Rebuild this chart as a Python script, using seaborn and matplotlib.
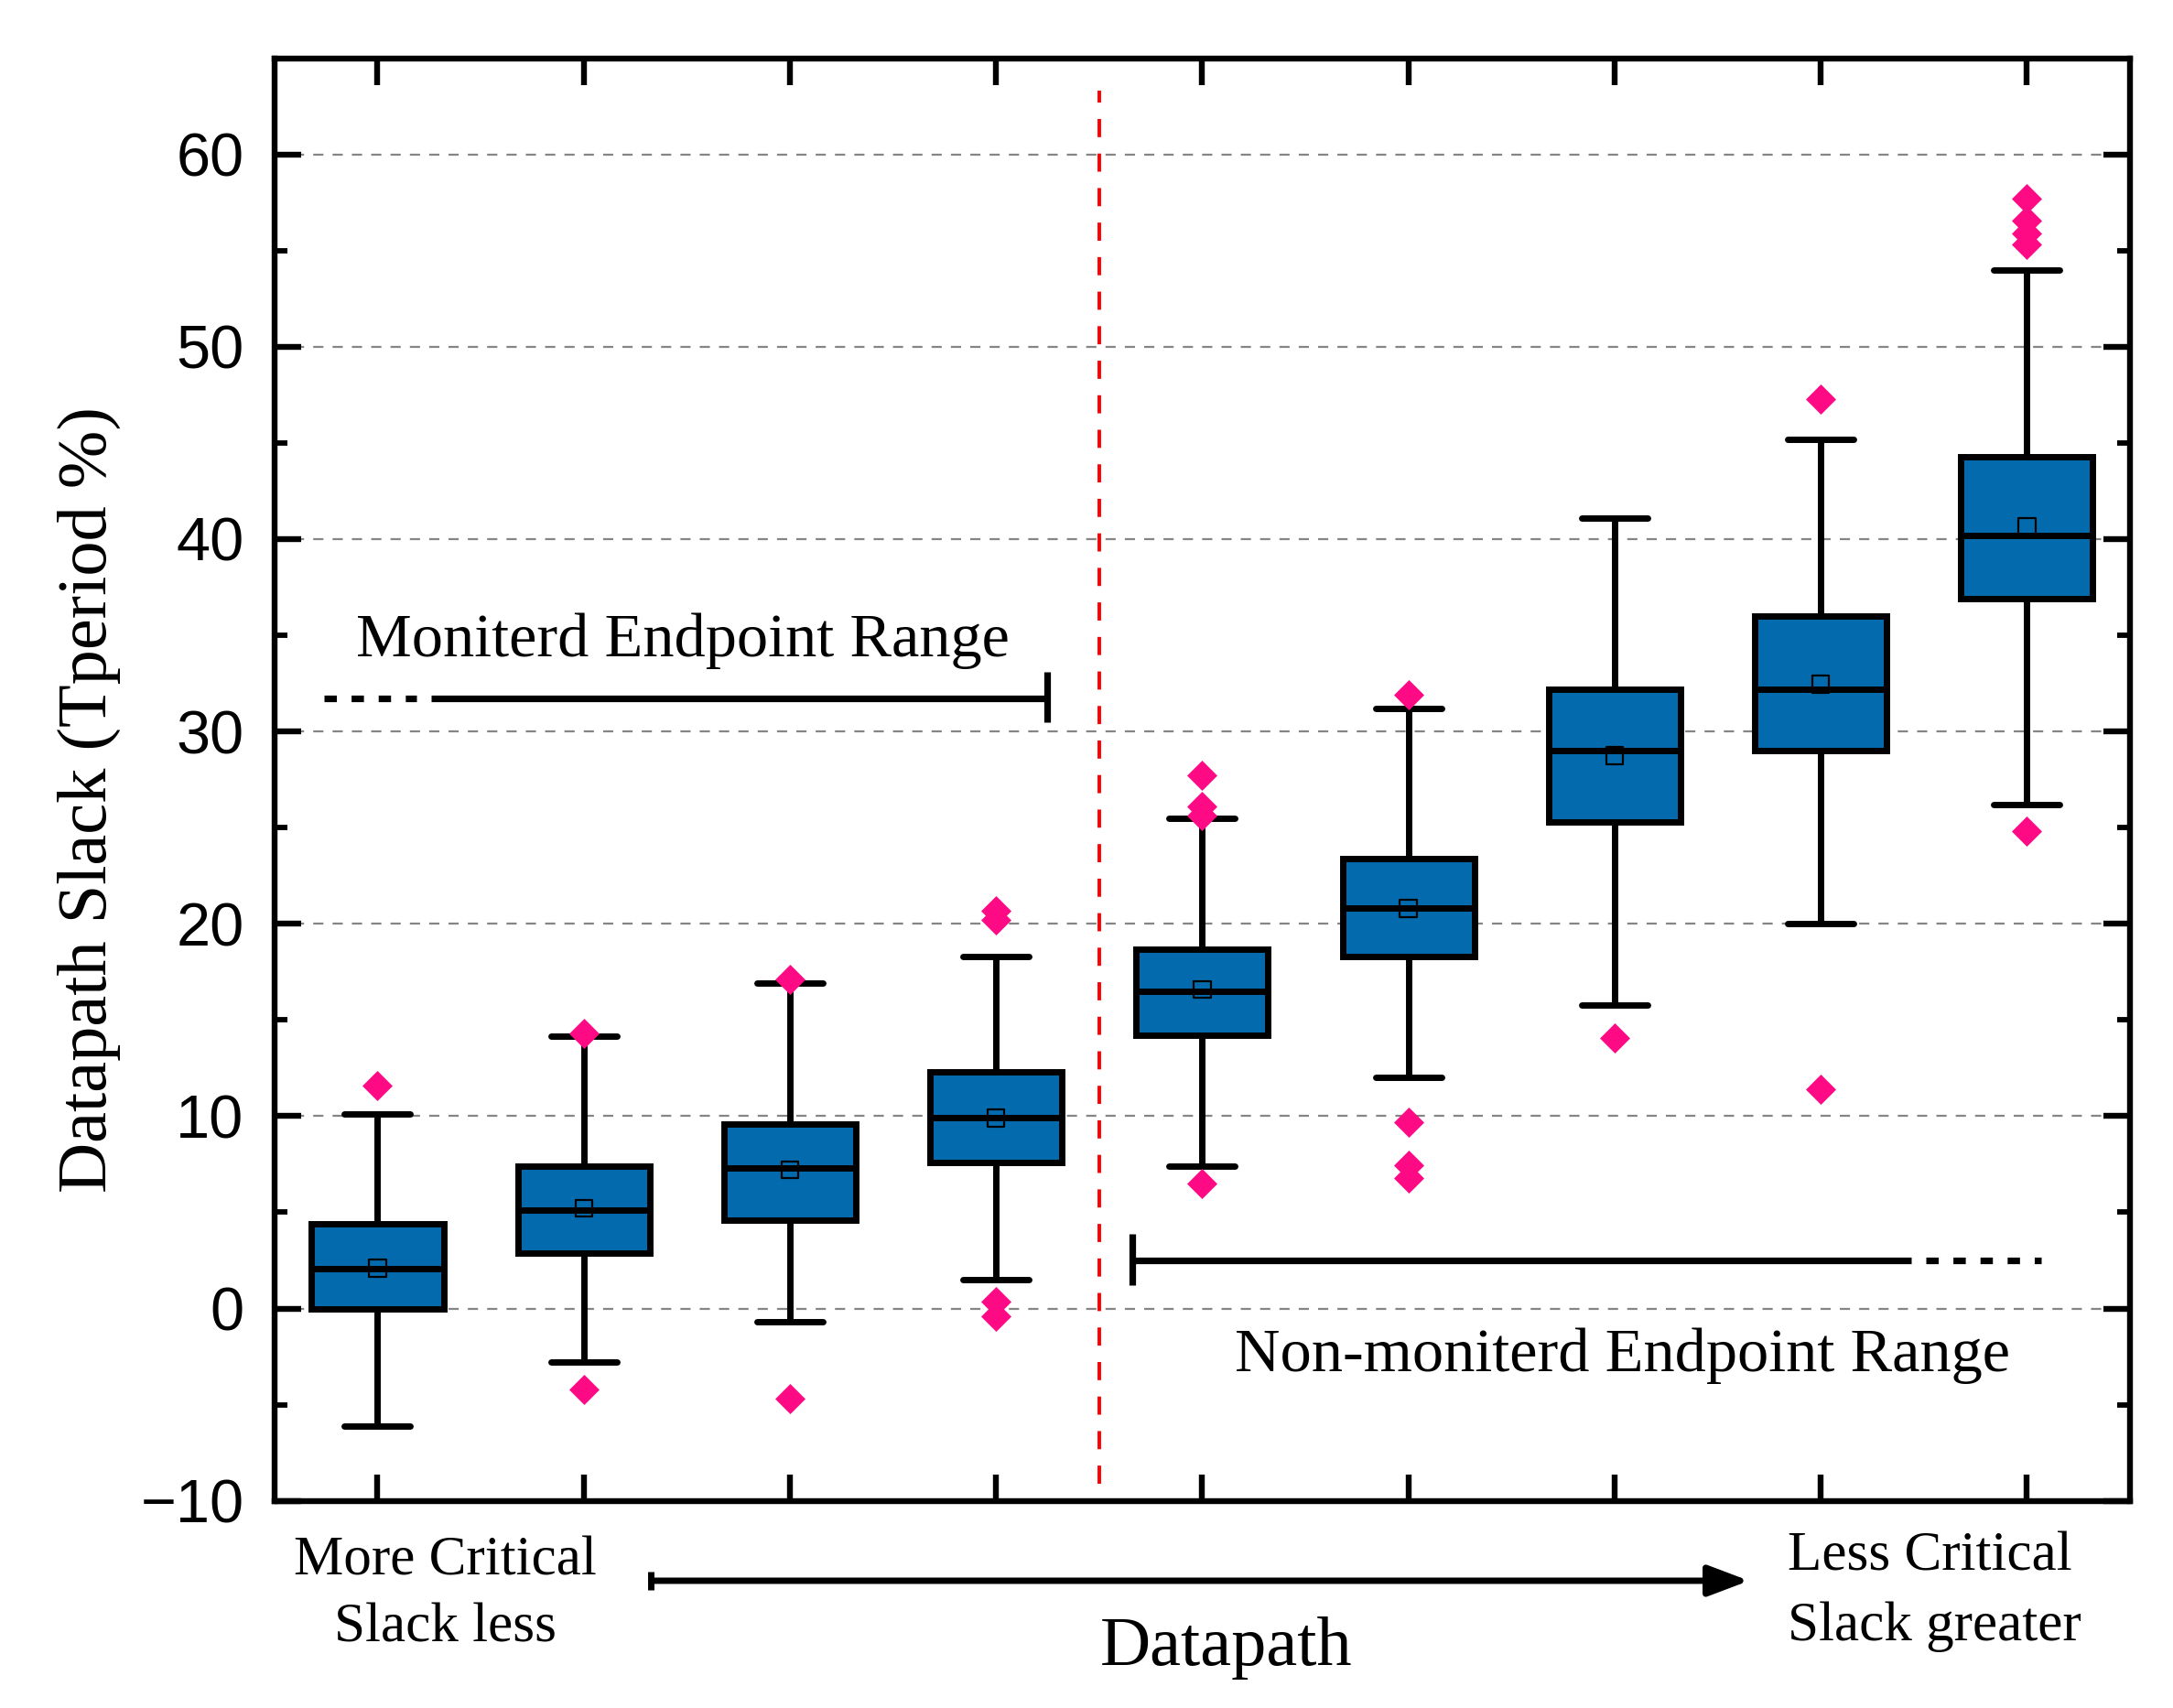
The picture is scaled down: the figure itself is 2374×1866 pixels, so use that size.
import numpy as np
import pandas as pd
import matplotlib
matplotlib.use("Agg")
import matplotlib.pyplot as plt
import seaborn as sns
from matplotlib.ticker import MultipleLocator
from matplotlib.lines import Line2D

# Datapath groups, ordered from more critical to less critical
groups = ["D1", "D2", "D3", "D4", "D5", "D6", "D7", "D8", "D9"]

# Box statistics (Tperiod %)
whisker_low = [-6.1, -2.8, -0.7, 1.5, 7.4, 12.0, 15.8, 20.0, 26.2]
q1 = [0.0, 2.9, 4.6, 7.6, 14.2, 18.3, 25.3, 29.0, 36.9]
median = [2.05, 5.1, 7.3, 9.9, 16.5, 20.8, 29.0, 32.2, 40.2]
q3 = [4.4, 7.4, 9.6, 12.3, 18.7, 23.4, 32.2, 36.0, 44.3]
whisker_high = [10.1, 14.15, 16.9, 18.3, 25.5, 31.2, 41.1, 45.2, 54.0]
means = [2.1, 5.2, 7.2, 9.9, 16.6, 20.8, 28.75, 32.45, 40.65]

# Outliers
outlier_groups = ["D1",
                  "D2", "D2",
                  "D3", "D3",
                  "D4", "D4", "D4", "D4",
                  "D5", "D5", "D5", "D5",
                  "D6", "D6", "D6", "D6",
                  "D7",
                  "D8", "D8",
                  "D9", "D9", "D9", "D9", "D9"]
outlier_values = [11.6,
                  14.3, -4.2,
                  17.1, -4.7,
                  20.7, 20.2, 0.35, -0.4,
                  27.7, 26.1, 25.65, 6.5,
                  31.9, 9.7, 7.45, 6.8,
                  14.05,
                  47.3, 11.4,
                  57.7, 56.55, 55.9, 55.3, 24.8]

BOX_COLOR = "#036BAD"
OUT_COLOR = "#FF0A85"
SERIF = ["Liberation Serif", "DejaVu Serif"]

# five-number rows per group -> long table for seaborn
df_box = pd.DataFrame({
    "group": np.repeat(groups, 5),
    "slack": np.column_stack([whisker_low, q1, median, q3, whisker_high]).ravel(),
})
df_out = pd.DataFrame({"group": outlier_groups, "slack": outlier_values})
df_mean = pd.DataFrame({"group": groups, "slack": means})

sns.set_style("white")
plt.rcParams["font.family"] = ["Liberation Sans", "DejaVu Sans"]
plt.rcParams.update({
    "text.color": "black",
    "axes.labelcolor": "black",
    "xtick.color": "black",
    "ytick.color": "black",
    "axes.edgecolor": "black",
})

fig = plt.figure(figsize=(11.87, 9.33), dpi=200)
ax = fig.add_axes([0.1263, 0.1213, 0.9802 - 0.1263, 0.9659 - 0.1213])

sns.boxplot(data=df_box, x="group", y="slack", order=groups,
            whis=(0, 100), showfliers=False, width=0.64,
            color=BOX_COLOR, saturation=1, linecolor="black",
            linewidth=2.5, ax=ax)

sns.stripplot(data=df_out, x="group", y="slack", order=groups,
              jitter=False, marker="D", size=8.4, color=OUT_COLOR,
              linewidth=0, ax=ax, zorder=4)

sns.stripplot(data=df_mean, x="group", y="slack", order=groups,
              jitter=False, marker="s", size=6.6, color="black",
              facecolor="none", edgecolor="black", linewidth=0.8,
              ax=ax, zorder=5)

ax.set_xlim(-0.5, 8.5)
ax.set_ylim(-10, 65)
ax.set_xlabel("")
ax.set_ylabel("")

# axes styling
for sp in ax.spines.values():
    sp.set_linewidth(2.3)
    sp.set_color("black")
ax.yaxis.set_major_locator(MultipleLocator(10))
ax.yaxis.set_minor_locator(MultipleLocator(5))
ax.tick_params(axis="both", which="major", direction="in", length=10.5,
               width=2.3, top=True, right=True, bottom=True, left=True,
               labelsize=24, pad=12, color="black", labelcolor="black")
ax.tick_params(axis="y", which="minor", direction="in", length=5,
               width=2.1, left=True, right=True, color="black")
ax.tick_params(axis="x", labelbottom=False)
ax.yaxis.grid(True, which="major", color="#858585", linewidth=0.8,
              linestyle=(0, (5, 4.5)))
ax.set_axisbelow(True)

# divider between monitored / non-monitored endpoints
ax.vlines(3.5, -9.1, 63.3, color="#FF0000", linewidth=1.4,
          linestyles=[(0, (5.1, 4.6))], zorder=3)

# monitored endpoint range
dots = (0, (1.87, 2.23))
ax.plot([-0.26, 0.19], [31.7, 31.7], color="black", lw=2.6, linestyle=dots,
        dash_capstyle="butt")
ax.plot([0.26, 3.25], [31.7, 31.7], color="black", lw=2.6,
        solid_capstyle="butt")
ax.plot([3.25, 3.25], [30.5, 33.1], color="black", lw=2.6,
        solid_capstyle="butt")
ax.text(1.48, 33.9, "Moniterd Endpoint Range", family=SERIF, fontsize=24.6,
        ha="center", va="baseline", color="black")

# non-monitored endpoint range
ax.plot([3.66, 3.66], [1.2, 3.9], color="black", lw=2.6,
        solid_capstyle="butt")
ax.plot([3.66, 7.44], [2.5, 2.5], color="black", lw=2.6,
        solid_capstyle="butt")
ax.plot([7.51, 8.07], [2.5, 2.5], color="black", lw=2.6, linestyle=dots,
        dash_capstyle="butt")
ax.text(6.04, -3.25, "Non-moniterd Endpoint Range", family=SERIF,
        fontsize=24.6, ha="center", va="baseline", color="black")

# y label
fig.text(0.041, 0.532, "Datapath Slack (Tperiod %)", family=SERIF,
         fontsize=27.5, rotation=90, ha="center", va="center", color="black")

# bottom annotations
fig.text(0.2050, 0.0782, "More Critical", family=SERIF, fontsize=22,
         ha="center", va="baseline")
fig.text(0.2050, 0.0386, "Slack less", family=SERIF, fontsize=22,
         ha="center", va="baseline")
fig.text(0.8227, 0.0804, "Less Critical", family=SERIF, fontsize=22,
         ha="left", va="baseline")
fig.text(0.8227, 0.0397, "Slack greater", family=SERIF, fontsize=22,
         ha="left", va="baseline")
fig.text(0.5644, 0.0250, "Datapath", family=SERIF, fontsize=27.5,
         ha="center", va="baseline")

ax.annotate("", xy=(0.8049, 0.0745), xytext=(0.2997, 0.0745),
            xycoords="figure fraction", textcoords="figure fraction",
            arrowprops=dict(arrowstyle="-|>,head_length=0.45,head_width=0.17",
                            lw=2.5, color="black", shrinkA=0, shrinkB=0,
                            mutation_scale=30),
            annotation_clip=False)
fig.add_artist(Line2D([0.2997, 0.2997], [0.0745 - 0.0052, 0.0745 + 0.0052],
                      transform=fig.transFigure, lw=2.5, color="black",
                      solid_capstyle="butt"))

fig.savefig("out.png", dpi=200)
